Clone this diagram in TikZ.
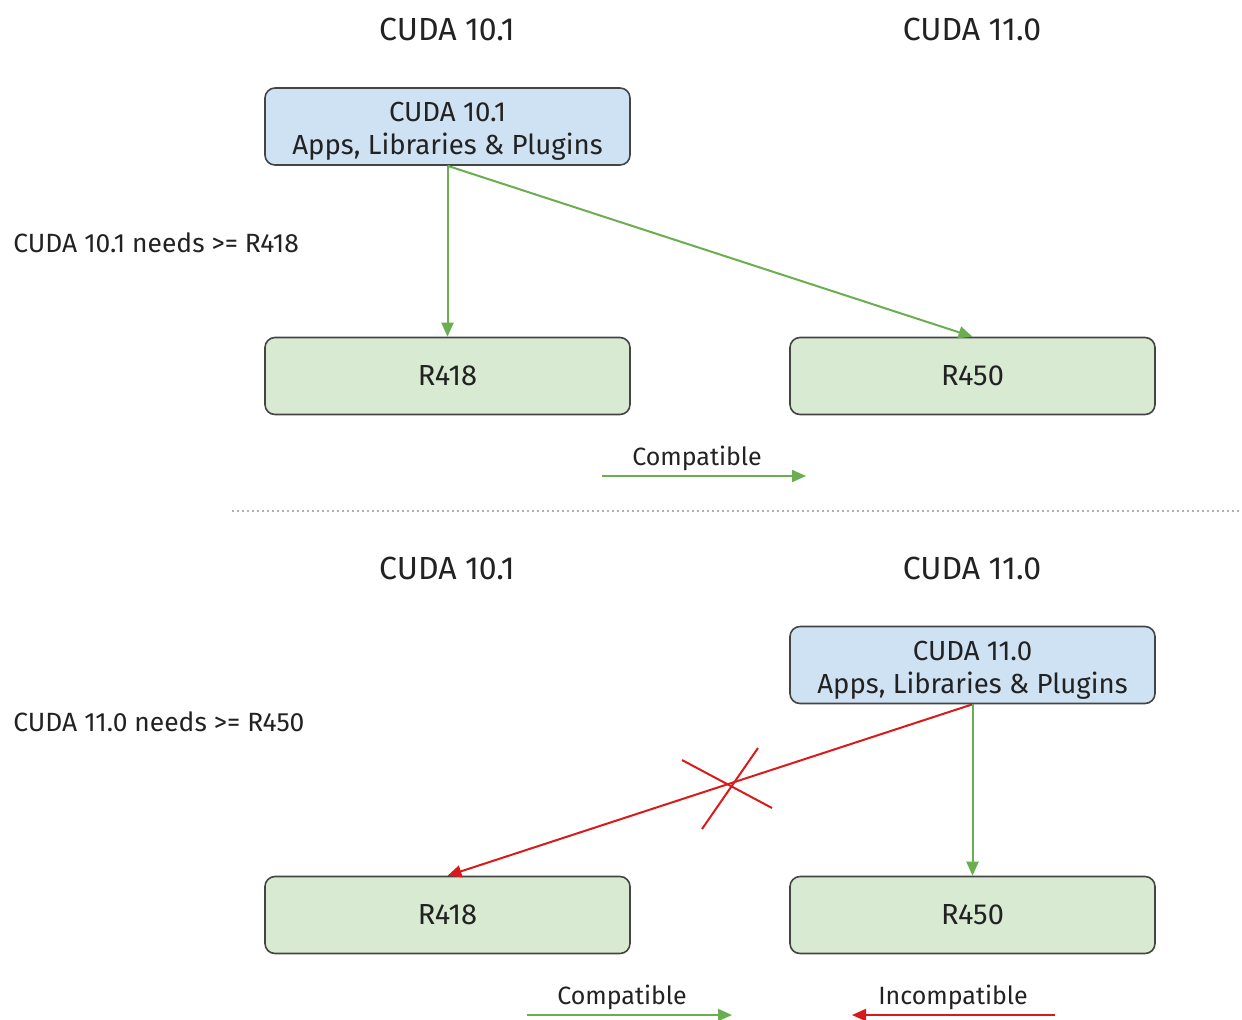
\documentclass[tikz,border=0pt]{standalone}
\usepackage{fontspec}
\setmainfont{Fira Sans}
\usetikzlibrary{arrows.meta}
\definecolor{boxblue}{HTML}{CFE2F3}
\definecolor{boxgreen}{HTML}{D9EAD3}
\definecolor{edgegray}{HTML}{444444}
\definecolor{okgreen}{HTML}{6AAE4F}
\definecolor{badred}{HTML}{D91A1A}
\definecolor{txt}{HTML}{222222}
\newcommand{\toppad}{\rule{0pt}{14.5pt}}
\tikzset{
  px/.style={x=0.5pt,y=-0.5pt},
  ebox/.style={draw=edgegray,line width=0.8pt,rounded corners=5pt,minimum width=182.5pt,minimum height=38.5pt,align=center,text=txt,font=\fontsize{14}{16.5}\selectfont,inner sep=0pt},
  bluebox/.style={ebox,fill=boxblue,font=\fontsize{13.8}{16.5}\selectfont},
  greenbox/.style={ebox,fill=boxgreen,font=\fontsize{14.5}{16.5}\selectfont},
  hdr/.style={text=txt,font=\fontsize{16}{18}\selectfont,inner sep=0pt},
  lbl/.style={text=txt,font=\fontsize{13.2}{15}\selectfont,inner sep=0pt},
  leg/.style={text=txt,font=\fontsize{12.5}{14}\selectfont,inner sep=0pt},
  okarrow/.style={draw=okgreen,line width=1pt,-{Triangle[length=7pt,width=6pt]}},
  badarrow/.style={draw=badred,line width=1pt,-{Triangle[length=7pt,width=6pt]}},
  crossline/.style={draw=badred,line width=1pt}
}
\begin{document}
\begin{tikzpicture}[px]
\useasboundingbox (0,0) rectangle (1242,1019);
% top half
\node[hdr] (h1) at (447,29) {CUDA 10.1};
\node[hdr] (h2) at (972,29) {CUDA 11.0};
\node[bluebox] (app1) at (447.5,126.5) {\toppad CUDA 10.1\\Apps, Libraries \& Plugins};
\node[greenbox] (r418a) at (447.5,376) {R418};
\node[greenbox] (r450a) at (972.5,376) {R450};
\node[lbl,anchor=west] (need1) at (13,243) {CUDA 10.1 needs >= R418};
\draw[okarrow] (app1.south) -- (r418a.north);
\draw[okarrow] (app1.south) -- (r450a.north);
\node[leg] (leg1) at (697,458) {Compatible};
\coordinate (l1a) at (602,476);
\coordinate (l1b) at (806,476);
\draw[okarrow] (l1a) -- (l1b);
% separator
\coordinate (sepa) at (232,511);
\coordinate (sepb) at (1242,511);
\draw[gray!60,line width=0.6pt,dash pattern=on 1pt off 1.5pt] (sepa) -- (sepb);
% bottom half
\node[hdr] (h3) at (447,568) {CUDA 10.1};
\node[hdr] (h4) at (972,568) {CUDA 11.0};
\node[bluebox] (app2) at (972.5,665) {\toppad CUDA 11.0\\Apps, Libraries \& Plugins};
\node[greenbox] (r418b) at (447.5,915) {R418};
\node[greenbox] (r450b) at (972.5,915) {R450};
\node[lbl,anchor=west] (need2) at (13,722) {CUDA 11.0 needs >= R450};
\draw[badarrow] (app2.south) -- (r418b.north);
\draw[okarrow] (app2.south) -- (r450b.north);
\coordinate (c1a) at (682,760);
\coordinate (c1b) at (772,808);
\coordinate (c2a) at (758,748);
\coordinate (c2b) at (702,829);
\draw[crossline] (c1a) -- (c1b);
\draw[crossline] (c2a) -- (c2b);
\node[leg] (leg2) at (622,997) {Compatible};
\coordinate (l2a) at (527,1015);
\coordinate (l2b) at (732,1015);
\draw[okarrow] (l2a) -- (l2b);
\node[leg] (leg3) at (953,997) {Incompatible};
\coordinate (l3a) at (1055,1015);
\coordinate (l3b) at (852,1015);
\draw[badarrow] (l3a) -- (l3b);
\end{tikzpicture}
\end{document}
